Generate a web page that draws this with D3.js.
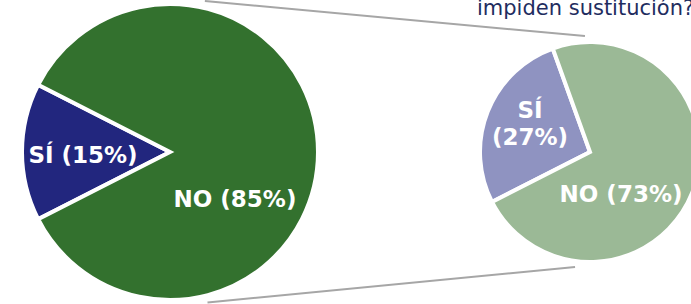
<!DOCTYPE html>
<html lang="en">
  <head>
    <meta charset="utf-8">
    <title>Sustitución - SÍ / NO</title>
    <style>
        html, body {
          margin: 0;
          padding: 0;
          background: #fff;
        }
        svg {
          display: block;
        }
        text {
          font-family: 'DejaVu Sans', Verdana, sans-serif;
        }
        .slice-label {
          font-weight: bold;
          font-size: 23px;
          fill: #fff;
        }
        .title {
          font-size: 21px;
          fill: #1f2d5f;
        }
    </style>
  </head>
  <body>
    <div id="viz"></div>
    <script src="https://d3js.org/d3.v7.min.js"></script>
    <script>
        // data
        const categories = ["SÍ", "NO"];
        const leftValues = [15, 85];
        const rightValues = [27, 73];
        const titleText = "impiden sustitución?";

        const width = 691, height = 304;
        const deg = Math.PI / 180;
        const start = 243 * deg;

        const svg = d3.select("#viz")
                    .append("svg")
                    .attr("width", width)
                    .attr("height", height);

        const pies = [
          { values: leftValues, cx: 170, cy: 152, r: 148,
            colors: ["#22267e", "#33712e"],
            // label anchors, relative to the centre
            labels: [{dx: -87, dy: 11, lines: d => [`${d.cat} (${d.v}%)`]},
                     {dx: 65, dy: 55, lines: d => [`${d.cat} (${d.v}%)`]}] },
          { values: rightValues, cx: 590, cy: 152, r: 110,
            colors: ["#8f93c1", "#9bb996"],
            labels: [{dx: -60, dy: -34, lines: d => [d.cat, `(${d.v}%)`]},
                     {dx: 31, dy: 50, lines: d => [`${d.cat} (${d.v}%)`]}] }
        ];

        // connector lines between the two pies (angle on left pie, angle on right pie)
        const conn = [[13, -2.5], [166, 187.4]];
        const pt = (p, a, extra) => [p.cx + (p.r + extra) * Math.sin(a * deg),
                                     p.cy - (p.r + extra) * Math.cos(a * deg)];
        svg.append("g")
          .selectAll("line")
          .data(conn)
          .join("line")
          .attr("x1", d => pt(pies[0], d[0], 7)[0])
          .attr("y1", d => pt(pies[0], d[0], 7)[1])
          .attr("x2", d => pt(pies[1], d[1], 6)[0])
          .attr("y2", d => pt(pies[1], d[1], 6)[1])
          .attr("stroke", "#a6a6a6")
          .attr("stroke-width", 2);

        const pie = d3.pie().sort(null).startAngle(start).endAngle(start + 2 * Math.PI);

        pies.forEach(p => {
          const arcs = pie(p.values)
            .map((a, i) => ({...a, cat: categories[i], v: p.values[i]}));
          const arc = d3.arc().innerRadius(0).outerRadius(p.r);
          const g = svg.append("g").attr("transform", `translate(${p.cx},${p.cy})`);

          g.selectAll("path")
            .data(arcs)
            .join("path")
            .attr("d", arc)
            .attr("fill", (d, i) => p.colors[i])
            .attr("stroke", "#fff")
            .attr("stroke-width", 4)
            .attr("stroke-linejoin", "miter");

          arcs.forEach((d, i) => {
            const L = p.labels[i];
            const t = g.append("text")
              .attr("class", "slice-label")
              .attr("text-anchor", "middle")
              .attr("x", L.dx)
              .attr("y", L.dy);
            L.lines(d).forEach((s, j) => {
              t.append("tspan").attr("x", L.dx).attr("dy", j ? 27 : 0).text(s);
            });
          });
        });

        svg.append("text")
          .attr("class", "title")
          .attr("x", 477)
          .attr("y", 15)
          .text(titleText);
    </script>
  </body>
</html>
